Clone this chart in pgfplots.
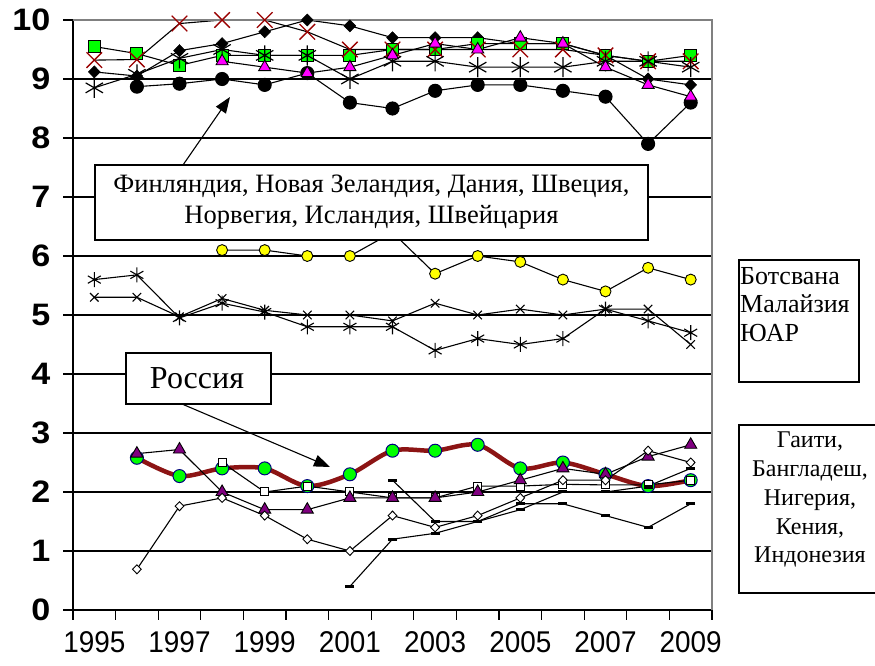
\documentclass[border=0pt]{standalone}
\usepackage{fontspec}
\setmainfont{Liberation Serif}
\setsansfont{Liberation Sans}
\usepackage{pgfplots}
\pgfplotsset{compat=1.18}
\usetikzlibrary{arrows.meta}

\definecolor{dred}{RGB}{153,0,0}
\definecolor{rusline}{RGB}{140,20,20}
\definecolor{lime}{RGB}{0,255,0}
\definecolor{magen}{RGB}{255,0,255}
\definecolor{yel}{RGB}{255,255,0}
\definecolor{purp}{RGB}{128,0,128}
\definecolor{navyb}{RGB}{0,0,128}

\begin{document}
\begin{tikzpicture}[x=1pt,y=1pt]
\useasboundingbox (0,0) rectangle (875,666);
\begin{axis}[
  at={(73pt,56pt)}, anchor=south west,
  width=639pt, height=590pt, scale only axis,
  xmin=1994.5, xmax=2009.5, ymin=0, ymax=10,
  clip=false,
  axis x line*=bottom, axis y line*=left,
  axis line style={black, line width=1.3pt, -},
  tick align=outside, major tick length=10pt,
  tick style={black, line width=1.1pt},
  xtick={1994.5,1995.5,...,2009.5}, xticklabels={},
  extra x ticks={1995,1997,...,2009},
  extra x tick labels={1995,1997,1999,2001,2003,2005,2007,2009},
  extra x tick style={major tick length=0pt, tick style={draw=none}},
  ytick={0,1,...,10},
  ymajorgrids, grid style={black, line width=1.1pt},
  /pgf/number format/assume math mode=true,
  yticklabel style={font=\sffamily\bfseries\fontsize{31}{31}\selectfont, xscale=1.1, xshift=-8pt},
  xticklabel style={font=\sffamily\fontsize{30}{30}\selectfont, xscale=0.93, yshift=-18pt},
  every axis plot/.append style={black, line width=1.1pt},
]
% Finland
\addplot[mark=diamond*, mark size=6, mark options={fill=black, xscale=1.3, line width=0.6pt}] coordinates {
(1995,9.12) (1996,9.05) (1997,9.48) (1998,9.6) (1999,9.8) (2000,10.0) (2001,9.9) (2002,9.7)
(2003,9.7) (2004,9.7) (2005,9.6) (2006,9.6) (2007,9.4) (2008,9.0) (2009,8.9)};
% New Zealand
\addplot[mark=square*, mark size=6, mark options={fill=lime, draw=black, line width=1pt}] coordinates {
(1995,9.55) (1996,9.43) (1997,9.23) (1998,9.4) (1999,9.4) (2000,9.4) (2001,9.4) (2002,9.5)
(2003,9.5) (2004,9.6) (2005,9.6) (2006,9.6) (2007,9.4) (2008,9.3) (2009,9.4)};
% Denmark
\addplot[mark=x, mark size=11, mark options={draw=dred, line width=1.3pt}] coordinates {
(1995,9.32) (1996,9.33) (1997,9.94) (1998,10.0) (1999,10.0) (2000,9.8) (2001,9.5) (2002,9.5)
(2003,9.5) (2004,9.5) (2005,9.5) (2006,9.5) (2007,9.4) (2008,9.3) (2009,9.3)};
% Sweden
\addplot[mark=asterisk, mark size=10, mark options={line width=1.2pt}] coordinates {
(1995,8.85) (1996,9.08) (1997,9.35) (1998,9.5) (1999,9.4) (2000,9.4) (2001,9.0) (2002,9.3)
(2003,9.3) (2004,9.2) (2005,9.2) (2006,9.2) (2007,9.3) (2008,9.3) (2009,9.2)};
% Norway
\addplot[mark=*, mark size=6.5, mark options={fill=black}] coordinates {
(1996,8.87) (1997,8.92) (1998,9.0) (1999,8.9) (2000,9.1) (2001,8.6) (2002,8.5)
(2003,8.8) (2004,8.9) (2005,8.9) (2006,8.8) (2007,8.7) (2008,7.9) (2009,8.6)};
% Iceland
\addplot[mark=triangle*, mark size=7, mark options={fill=magen, draw=black, line width=0.9pt}] coordinates {
(1998,9.3) (1999,9.2) (2000,9.1) (2001,9.2) (2002,9.4)
(2003,9.6) (2004,9.5) (2005,9.7) (2006,9.6) (2007,9.2) (2008,8.9) (2009,8.7)};
% Botswana
\addplot[mark=*, mark size=5.5, mark options={fill=yel, draw=black, line width=0.9pt}] coordinates {
(1998,6.1) (1999,6.1) (2000,6.0) (2001,6.0) (2002,6.4)
(2003,5.7) (2004,6.0) (2005,5.9) (2006,5.6) (2007,5.4) (2008,5.8) (2009,5.6)};
% Malaysia
\addplot[mark=x, mark size=6, mark options={line width=1.1pt}] coordinates {
(1995,5.3) (1996,5.3) (1997,4.97) (1998,5.28) (1999,5.08) (2000,5.0) (2001,5.0) (2002,4.9)
(2003,5.2) (2004,5.0) (2005,5.1) (2006,5.0) (2007,5.1) (2008,5.1) (2009,4.5)};
% South Africa
\addplot[mark=asterisk, mark size=7.5, mark options={line width=1.1pt}] coordinates {
(1995,5.6) (1996,5.68) (1997,4.95) (1998,5.2) (1999,5.05) (2000,4.8) (2001,4.8) (2002,4.8)
(2003,4.4) (2004,4.6) (2005,4.5) (2006,4.6) (2007,5.1) (2008,4.9) (2009,4.7)};
% Russia
\addplot[rusline, line width=4.5pt, smooth, mark=*, mark size=6.5, mark options={fill=lime, draw=navyb, line width=1pt}] coordinates {
(1996,2.58) (1997,2.27) (1998,2.4) (1999,2.4) (2000,2.1) (2001,2.3) (2002,2.7)
(2003,2.7) (2004,2.8) (2005,2.4) (2006,2.5) (2007,2.3) (2008,2.1) (2009,2.2)};
% Kenya
\addplot[mark=square*, mark size=4, mark options={fill=white, draw=black, line width=1pt}] coordinates {
(1998,2.5) (1999,2.0) (2000,2.1) (2001,2.0) (2002,1.9)
(2003,1.9) (2004,2.1) (2005,2.1) (2006,2.13) (2007,2.12) (2008,2.12) (2009,2.2)};
% Indonesia
\addplot[mark=triangle*, mark size=7, mark options={fill=purp, draw=black, line width=0.9pt}] coordinates {
(1996,2.65) (1997,2.72) (1998,2.0) (1999,1.7) (2000,1.7) (2001,1.9) (2002,1.9)
(2003,1.9) (2004,2.0) (2005,2.2) (2006,2.4) (2007,2.3) (2008,2.6) (2009,2.8)};
% Nigeria
\addplot[mark=diamond*, mark size=4.5, mark options={fill=white, draw=black, xscale=1.3, line width=0.9pt}] coordinates {
(1996,0.69) (1997,1.76) (1998,1.9) (1999,1.6) (2000,1.2) (2001,1.0) (2002,1.6)
(2003,1.4) (2004,1.6) (2005,1.9) (2006,2.2) (2007,2.2) (2008,2.7) (2009,2.5)};
% Bangladesh
\addplot[mark=-, mark size=4.5, mark options={line width=3pt}] coordinates {
(2001,0.4) (2002,1.2) (2003,1.3) (2004,1.5) (2005,1.7) (2006,2.0) (2007,2.0) (2008,2.1) (2009,2.4)};
% Haiti
\addplot[mark=-, mark size=4.5, mark options={line width=3pt}] coordinates {
(2002,2.2) (2003,1.5) (2004,1.5) (2005,1.8) (2006,1.8) (2007,1.6) (2008,1.4) (2009,1.8)};
\draw[gray, line width=1.3pt] (rel axis cs:0,1) -- (rel axis cs:1,1) -- (rel axis cs:1,0);
\end{axis}

% annotation: northern countries
\draw[line width=1.1pt, fill=white] (95,426) rectangle (648,501);
\node[align=center, font=\fontsize{26.5}{31}\selectfont] at (371.5,463.5)
  {Финляндия, Новая Зеландия, Дания, Швеция,\\Норвегия, Исландия, Швейцария};
\draw[line width=1.1pt, -{Triangle[length=16pt,width=12pt]}] (183,501) -- (230,569);

% annotation: Russia
\draw[line width=1.1pt, fill=white] (126,262) rectangle (271,313);
\node[font=\fontsize{32}{32}\selectfont] at (197,287.5) {Россия};
\draw[line width=1.1pt, -{Triangle[length=16pt,width=12pt]}] (182,262) -- (330,199);

% right boxes
\draw[line width=1.1pt] (739,284) rectangle (859,406);
\begin{scope}[every node/.style={anchor=base west, inner sep=1pt, font=\fontsize{26}{26}\selectfont}]
\node at (739,381) {Ботсвана};
\node at (739,353) {Малайзия};
\node at (739,324) {ЮАР};
\end{scope}
\draw[line width=1.1pt] (739,73) rectangle (881,241);
\begin{scope}[every node/.style={anchor=base, inner sep=0pt, font=\fontsize{24}{24}\selectfont}]
\node at (810,218) {Гаити,};
\node at (810,189) {Бангладеш,};
\node at (810,160) {Нигерия,};
\node at (810,131) {Кения,};
\node at (810,103) {Индонезия};
\end{scope}
\end{tikzpicture}
\end{document}
